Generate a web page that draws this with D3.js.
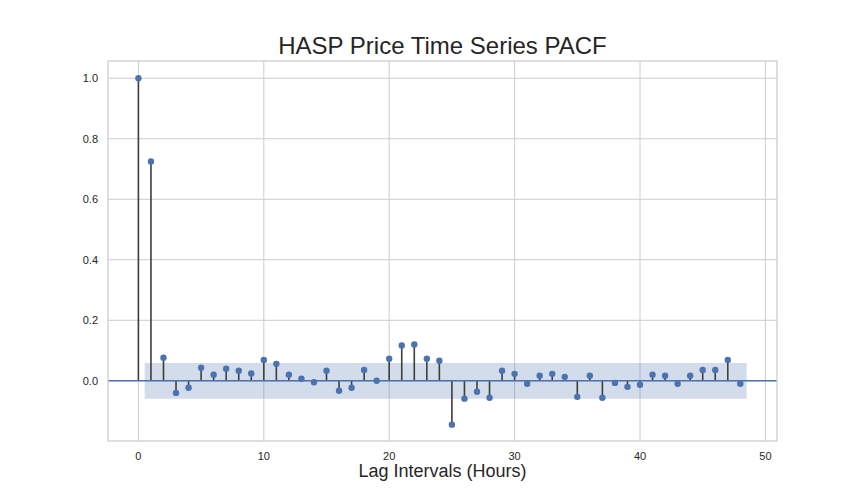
<!DOCTYPE html>
<html>
<head>
<meta charset="utf-8">
<script src="https://cdn.jsdelivr.net/npm/d3@7"></script>
<style>
  body { margin: 0; background: #fff; }
  text { font-family: "Liberation Sans", Arial, sans-serif; }
</style>
</head>
<body>
<script>
// pacf values per lag
var lags = d3.range(0, 49);
var pacf = [1.0, 0.725, 0.076, -0.040, -0.023, 0.043, 0.020, 0.040, 0.033, 0.024,
  0.069, 0.056, 0.020, 0.007, -0.005, 0.033, -0.033, -0.023, 0.036, 0.0,
  0.073, 0.117, 0.120, 0.073, 0.066, -0.145, -0.059, -0.036, -0.056, 0.033,
  0.023, -0.010, 0.017, 0.023, 0.013, -0.053, 0.017, -0.056, -0.007, -0.020,
  -0.013, 0.020, 0.017, -0.010, 0.017, 0.036, 0.036, 0.069, -0.010];
var confBound = 0.059;
var xTicks = [0, 10, 20, 30, 40, 50];
var yTicks = [0.0, 0.2, 0.4, 0.6, 0.8, 1.0];

var width = 864, height = 504;
// plot box (window.top is taken, so own names)
var pLeft = 108, pRight = 777, pTop = 61, pBottom = 441;
var blue = "#4c72b0";

var svg = d3.select("body").append("svg")
  .attr("width", width)
  .attr("height", height);

var x = d3.scaleLinear().domain([-2.425, 50.925]).range([pLeft, pRight]);
var y = d3.scaleLinear().domain([-0.199, 1.057]).range([pBottom, pTop]);

// grid
svg.append("g").selectAll("line").data(xTicks).join("line")
  .attr("x1", d => x(d)).attr("x2", d => x(d))
  .attr("y1", pTop).attr("y2", pBottom)
  .attr("stroke", "#cccccc").attr("stroke-width", 1);
svg.append("g").selectAll("line").data(yTicks).join("line")
  .attr("x1", pLeft).attr("x2", pRight)
  .attr("y1", d => y(d)).attr("y2", d => y(d))
  .attr("stroke", "#cccccc").attr("stroke-width", 1);

// confidence band (lag 1..48, edges pushed out half a lag)
var bandX = lags.slice(1).map(function (d, i, a) {
  if (i == 0) return d - 0.5;
  if (i == a.length - 1) return d + 0.5;
  return d;
});
var area = d3.area()
  .x(d => x(d))
  .y0(y(-confBound))
  .y1(y(confBound));
svg.append("path")
  .attr("d", area(bandX))
  .attr("fill", blue)
  .attr("fill-opacity", 0.25);

// stems
svg.append("g").selectAll("line").data(lags).join("line")
  .attr("x1", d => x(d)).attr("x2", d => x(d))
  .attr("y1", y(0)).attr("y2", d => y(pacf[d]))
  .attr("stroke", "#3d3d3d").attr("stroke-width", 1.6);

// zero line
svg.append("line")
  .attr("x1", pLeft).attr("x2", pRight)
  .attr("y1", y(0)).attr("y2", y(0))
  .attr("stroke", blue).attr("stroke-width", 1.6);

// markers
svg.append("g").selectAll("circle").data(lags).join("circle")
  .attr("cx", d => x(d)).attr("cy", d => y(pacf[d]))
  .attr("r", 3.2)
  .attr("fill", blue);

// frame
svg.append("rect")
  .attr("x", pLeft).attr("y", pTop)
  .attr("width", pRight - pLeft).attr("height", pBottom - pTop)
  .attr("fill", "none").attr("stroke", "#cccccc").attr("stroke-width", 1.25);

// tick labels
svg.append("g").selectAll("text").data(xTicks).join("text")
  .attr("x", d => x(d)).attr("y", pBottom + 19)
  .attr("text-anchor", "middle")
  .attr("font-size", 11).attr("fill", "#262626")
  .text(d => d);
svg.append("g").selectAll("text").data(yTicks).join("text")
  .attr("x", pLeft - 10).attr("y", d => y(d) + 4)
  .attr("text-anchor", "end")
  .attr("font-size", 11).attr("fill", "#262626")
  .text(d => d.toFixed(1));

// title + label
svg.append("text")
  .attr("x", (pLeft + pRight) / 2).attr("y", 54)
  .attr("text-anchor", "middle")
  .attr("font-size", 24).attr("fill", "#262626")
  .text("HASP Price Time Series PACF");
svg.append("text")
  .attr("x", (pLeft + pRight) / 2).attr("y", 477)
  .attr("text-anchor", "middle")
  .attr("font-size", 18).attr("fill", "#262626")
  .text("Lag Intervals (Hours)");
</script>
</body>
</html>
